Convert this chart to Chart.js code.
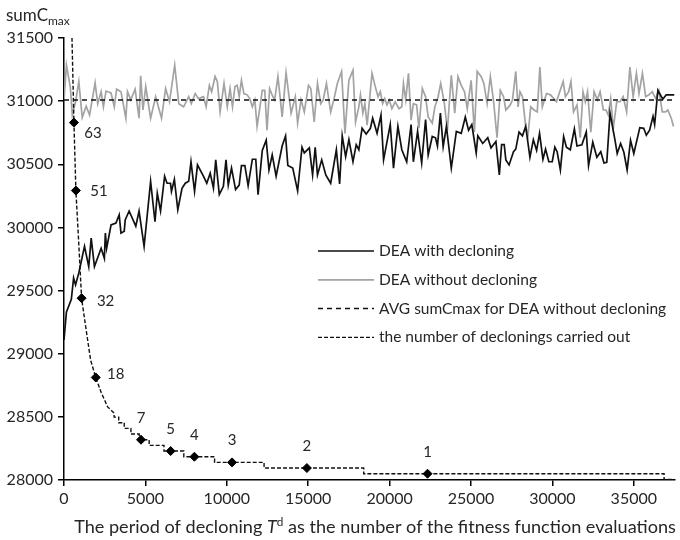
<!DOCTYPE html>
<html>
<head>
<meta charset="utf-8">
<script src="https://cdn.jsdelivr.net/npm/chart.js@4.4.1/dist/chart.umd.min.js"></script>
<style>
  html, body { margin: 0; padding: 0; background: #fff; }
  #wrap { width: 680px; height: 540px; }
</style>
</head>
<body>
<div id="wrap"><canvas id="declChart" width="680" height="540"></canvas></div>
<script>
// DEA with decloning: period T^d -> sumCmax
const withT = [0, 150, 450, 590, 710, 910, 1060, 1260, 1520, 1670, 1870, 2280, 2480, 2540, 2620, 2890, 3190, 3390, 3500, 3700,
  3760, 4000, 4410, 4610, 4920, 5320, 5590, 5730, 5930, 6180, 6330, 6540, 6600, 6780, 6990, 7250, 7450, 7660, 7800, 8020,
  8200, 8570, 8770, 8980, 9180, 9320, 9540, 9790, 9950, 10090, 10290, 10540, 10760, 10900, 11110, 11310, 11570, 11780, 11920, 12180,
  12420, 12590, 12790, 13030, 13400, 13610, 13750, 14050, 14350, 14620, 14760, 15070, 15270, 15430, 15570, 15830, 16080, 16380, 16730, 16930,
  17090, 17300, 17500, 17750, 17950, 18110, 18310, 18560, 18820, 18960, 19230, 19470, 19630, 20040, 20240, 20510, 20750, 21050, 21320, 21460,
  21720, 21970, 22210, 22370, 22620, 22820, 22940, 23120, 23290, 23490, 23790, 24100, 24400, 24650, 24850, 25050, 25320, 25420, 25720, 26030,
  26230, 26530, 26740, 26880, 27040, 27140, 27340, 27610, 27750, 27950, 28160, 28360, 28620, 28830, 29030, 29210, 29420, 29580, 29780, 29990,
  30150, 30290, 30490, 30690, 30860, 31100, 31350, 31510, 31810, 32080, 32220, 32480, 32730, 32970, 33170, 33340, 33540, 33840, 33980, 34190,
  34390, 34590, 34800, 35000, 35370, 35610, 35770, 35970, 36180, 36280, 36480, 36780, 36990, 37500];
const withVal = [29110, 29330, 29430, 29600, 29545, 29640, 29730, 29850, 29690, 29915, 29690, 29835, 29755, 29955, 29835, 30020, 30035, 30100, 29955, 29970,
  30060, 30130, 30010, 30130, 29850, 30365, 30045, 30270, 30130, 30405, 30350, 30350, 30285, 30380, 30140, 30310, 30350, 30365, 30520, 30285,
  30495, 30405, 30350, 30430, 30310, 30535, 30260, 30325, 30535, 30335, 30470, 30300, 30335, 30490, 30490, 30330, 30540, 30540, 30260, 30610,
  30690, 30455, 30575, 30405, 30645, 30725, 30490, 30470, 30290, 30635, 30590, 30630, 30415, 30635, 30415, 30535, 30415, 30350, 30615, 30345,
  30725, 30560, 30695, 30520, 30655, 30615, 30785, 30740, 30785, 30865, 30745, 30890, 30535, 30815, 30470, 30800, 30615, 30520, 30815, 30520,
  30760, 30510, 30855, 30575, 30720, 30710, 30645, 30905, 30640, 30800, 30470, 30760, 30745, 30875, 30770, 30815, 30590, 30725, 30665, 30710,
  30630, 30680, 30415, 30655, 30655, 30535, 30495, 30600, 30620, 30755, 30725, 30800, 30555, 30695, 30610, 30745, 30540, 30620, 30520, 30520,
  30635, 30600, 30455, 30720, 30635, 30615, 30780, 30645, 30655, 30755, 30490, 30675, 30555, 30600, 30510, 30515, 30905, 30695, 30585, 30665,
  30595, 30455, 30690, 30585, 30790, 30785, 30730, 30770, 30880, 30815, 31085, 31015, 31050, 31050];

// DEA without decloning
const withoutT = [0, 150, 390, 510, 710, 910, 1120, 1360, 1570, 1910, 2070, 2280, 2420, 2580, 2890, 3090, 3230, 3500, 3800, 3900,
  4100, 4370, 4610, 4710, 4850, 5020, 5320, 5630, 5990, 6240, 6480, 6800, 7050, 7350, 7660, 7820, 8060, 8260, 8570, 8730,
  8930, 9070, 9280, 9420, 9590, 9830, 10030, 10200, 10350, 10500, 10640, 10760, 10900, 11050, 11250, 11410, 11570, 11720, 11860, 12020,
  12180, 12330, 12470, 12630, 12830, 12940, 13140, 13400, 13640, 13950, 14210, 14350, 14560, 14760, 15020, 15160, 15370, 15570, 15770, 15920,
  16120, 16380, 16590, 16790, 17050, 17260, 17500, 17750, 17910, 18110, 18210, 18360, 18480, 18620, 18920, 19120, 19290, 19430, 19570, 19700,
  19840, 19980, 20140, 20340, 20580, 20750, 20850, 20990, 21160, 21320, 21460, 21660, 21800, 22010, 22210, 22370, 22620, 22780, 22980, 23140,
  23350, 23550, 23790, 24000, 24200, 24400, 24600, 24770, 25010, 25210, 25380, 25620, 25790, 25990, 26190, 26390, 26600, 26800, 27000, 27140,
  27410, 27550, 27750, 27890, 28010, 28160, 28360, 28500, 28670, 28870, 29070, 29230, 29380, 29640, 29880, 30090, 30250, 30450, 30660, 30800,
  31000, 31140, 31300, 31510, 31710, 31880, 32020, 32160, 32360, 32560, 32760, 32930, 33130, 33290, 33430, 33580, 33740, 33950, 34150, 34350,
  34560, 34760, 34960, 35160, 35320, 35530, 35730, 35930, 36140, 36340, 36540, 36750, 36950, 37090, 37300, 37440];
const withoutVal = [31010, 31285, 31110, 30890, 30995, 31155, 30870, 30960, 30890, 31145, 30980, 31075, 30955, 31080, 31065, 30955, 31095, 31075, 30865, 31075,
  31010, 31095, 30865, 31200, 30930, 31115, 30865, 31035, 30865, 31100, 30995, 31285, 30980, 30955, 31035, 30980, 31060, 31020, 31035, 30955,
  31125, 31075, 31195, 31155, 30915, 31140, 30955, 31100, 30955, 31115, 31125, 31035, 31165, 31060, 31050, 31020, 30955, 31010, 30800, 30940,
  31085, 31085, 30770, 31100, 31035, 31010, 31195, 30875, 31225, 30905, 31035, 30825, 31010, 30915, 31125, 31100, 30835, 31140, 30980, 31010,
  31140, 30915, 31020, 31140, 31235, 30745, 31165, 31245, 30835, 30955, 31050, 30905, 30980, 30810, 31220, 31115, 31035, 31075, 30980, 31020,
  30970, 31010, 30940, 30995, 30940, 30955, 31140, 31010, 31220, 30850, 30980, 30970, 30785, 31100, 31035, 30875, 30825, 30955, 31035, 31140,
  30995, 30770, 31205, 30905, 31195, 31125, 31075, 30940, 31165, 30755, 31235, 31195, 31140, 30980, 31195, 30995, 30710, 31085, 31035, 30930,
  30970, 31010, 31235, 30955, 31075, 31035, 30800, 30730, 30955, 30930, 30915, 31270, 30955, 31060, 31050, 31020, 30995, 31075, 31155, 31035,
  31075, 31155, 30915, 30970, 30710, 31075, 30995, 31075, 30755, 31075, 31010, 31075, 30930, 30930, 30890, 31020, 30785, 30995, 30995, 31035,
  30915, 31270, 31035, 31220, 31060, 31220, 31035, 31050, 31075, 31020, 31085, 30915, 30915, 30930, 30865, 30800];

// average sumCmax without decloning
const avgT = [0, 37500];
const avgVal = [31010, 31010];

// number of declonings carried out for a given period
const declonT = [490, 610, 730, 900, 1080, 1380, 1640, 1950, 2290, 2680, 3080, 3080, 3360, 3360, 3700, 3700, 4110, 4110, 4620, 4620,
  5230, 5230, 6140, 6140, 7360, 7360, 9250, 9250, 12290, 12290, 18410, 18410, 36860, 36860, 37500];
const declonCount = [78, 63, 51, 42, 32, 26, 21, 18, 15.3, 12.8, 11.7, 11, 11, 10, 10, 9, 9, 8, 8, 7,
  7, 6, 6, 5, 5, 4, 4, 3, 3, 2, 2, 1, 1, 0, 0];

// labelled points on the decloning curve
const markT = [610, 730, 1080, 1950, 4730, 6550, 8010, 10320, 14920, 22330];
const markCount = [63, 51, 32, 18, 7, 5, 4, 3, 2, 1];

const xTicks = [0, 5000, 10000, 15000, 20000, 25000, 30000, 35000];
const yTicks = [28000, 28500, 29000, 29500, 30000, 30500, 31000, 31500];

const FONT = 'Lato, "Open Sans", sans-serif';
const TEXT = '#262626';

// label offsets for the numbered diamonds (px)
const markLabelOffset = [[19, 11], [23, 1], [24, 3], [20, -3], [0, -22], [0, -22], [0, -22], [0, -22], [0, -22], [0, -22]];

function pts(xs, ys) {
  return xs.map((x, i) => ({ x: x, y: ys[i] }));
}

const overlay = {
  id: 'overlay',
  afterDatasetsDraw(chart) {
    const ctx = chart.ctx;
    const meta = chart.getDatasetMeta(4);
    ctx.save();
    ctx.font = '15px ' + FONT;
    ctx.fillStyle = TEXT;
    ctx.textAlign = 'center';
    ctx.textBaseline = 'middle';
    meta.data.forEach((pt, i) => {
      const off = markLabelOffset[i];
      ctx.fillText(String(markCount[i]), pt.x + off[0], pt.y + off[1]);
    });
    ctx.restore();
  },
  afterDraw(chart) {
    const ctx = chart.ctx;
    ctx.save();

    // legend inside the plot
    ctx.font = '15.5px ' + FONT;
    ctx.textBaseline = 'middle';
    ctx.textAlign = 'left';
    [0, 1, 2, 3].forEach((di, r) => {
      const ds = chart.data.datasets[di];
      const y = 251 + r * 28.8;
      ctx.beginPath();
      ctx.setLineDash(ds.borderDash || []);
      ctx.strokeStyle = ds.borderColor;
      ctx.lineWidth = ds.borderWidth;
      ctx.moveTo(318, y);
      ctx.lineTo(374, y);
      ctx.stroke();
      ctx.setLineDash([]);
      ctx.fillStyle = TEXT;
      ctx.fillText(ds.label, 379, y);
    });

    // y axis title: sumC with subscript max
    ctx.textBaseline = 'alphabetic';
    ctx.fillStyle = TEXT;
    ctx.font = '17px ' + FONT;
    ctx.fillText('sumC', 6, 21);
    const w = ctx.measureText('sumC').width;
    ctx.font = '12px ' + FONT;
    ctx.fillText('max', 6 + w, 25);

    // x axis title with italic T and superscript d
    const parts = [
      { t: 'The period of decloning ', style: '', rel: 1, dy: 0 },
      { t: 'T', style: 'italic ', rel: 1, dy: 0 },
      { t: 'd', style: '', rel: 0.65, dy: -7 },
      { t: ' as the number of the fitness function evaluations', style: '', rel: 1, dy: 0 }
    ];
    const measure = (s) => parts.reduce((acc, p) => {
      ctx.font = p.style + (s * p.rel) + 'px ' + FONT;
      return acc + ctx.measureText(p.t).width;
    }, 0);
    const size = 18 * 602 / measure(18);
    let x = 375 - measure(size) / 2;
    parts.forEach(p => {
      ctx.font = p.style + (size * p.rel) + 'px ' + FONT;
      ctx.fillText(p.t, x, 533 + p.dy);
      x += ctx.measureText(p.t).width;
    });
    ctx.restore();
  }
};

const ctx = document.getElementById('declChart').getContext('2d');
const chart = new Chart(ctx, {
  type: 'line',
  data: {
    datasets: [
      {
        label: 'DEA with decloning',
        data: pts(withT, withVal),
        borderColor: '#111111',
        borderWidth: 1.7,
        pointRadius: 0,
        order: 2
      },
      {
        label: 'DEA without decloning',
        data: pts(withoutT, withoutVal),
        borderColor: '#a3a3a3',
        borderWidth: 1.7,
        pointRadius: 0,
        order: 4
      },
      {
        label: 'AVG sumCmax for DEA without decloning',
        data: pts(avgT, avgVal),
        borderColor: '#111111',
        borderWidth: 1.5,
        borderDash: [5, 4],
        pointRadius: 0,
        order: 3
      },
      {
        label: 'the number of declonings carried out',
        data: pts(declonT, declonCount),
        borderColor: '#111111',
        borderWidth: 1.4,
        borderDash: [4, 2],
        pointRadius: 0,
        yAxisID: 'yCount',
        order: 1
      },
      {
        label: 'declonings',
        data: pts(markT, markCount),
        showLine: false,
        pointStyle: 'rectRot',
        pointRadius: 4.5,
        pointBackgroundColor: '#000',
        pointBorderColor: '#000',
        yAxisID: 'yCount',
        order: 0
      }
    ]
  },
  options: {
    responsive: false,
    animation: false,
    layout: { padding: { top: 38, left: 0, right: 0, bottom: 0 } },
    elements: { line: { tension: 0 } },
    plugins: {
      legend: { display: false },
      tooltip: { enabled: false }
    },
    scales: {
      x: {
        type: 'linear',
        min: 0,
        max: 37500,
        afterBuildTicks: (axis) => {
          axis.ticks = xTicks.map(v => ({ value: v }));
        },
        afterFit: (axis) => { axis.height = 60; },
        ticks: {
          autoSkip: false,
          maxRotation: 0,
          padding: 3,
          color: TEXT,
          font: { family: FONT, size: 16 },
          callback: (v) => String(v)
        },
        grid: { drawOnChartArea: false, drawTicks: true, tickLength: 6, color: '#000', lineWidth: 1.5 },
        border: { color: '#000', width: 1.5 }
      },
      y: {
        min: 28000,
        max: 31500,
        afterBuildTicks: (axis) => {
          axis.ticks = yTicks.map(v => ({ value: v }));
        },
        afterFit: (axis) => { axis.width = 64; },
        ticks: {
          padding: 5,
          color: TEXT,
          font: { family: FONT, size: 16 },
          callback: (v) => String(v)
        },
        grid: { drawOnChartArea: false, drawTicks: true, tickLength: 6, color: '#000', lineWidth: 1.5 },
        border: { color: '#000', width: 1.5 }
      },
      yCount: {
        display: false,
        min: -0.11,
        max: 77.94
      }
    }
  },
  plugins: [overlay]
});
</script>
</body>
</html>
